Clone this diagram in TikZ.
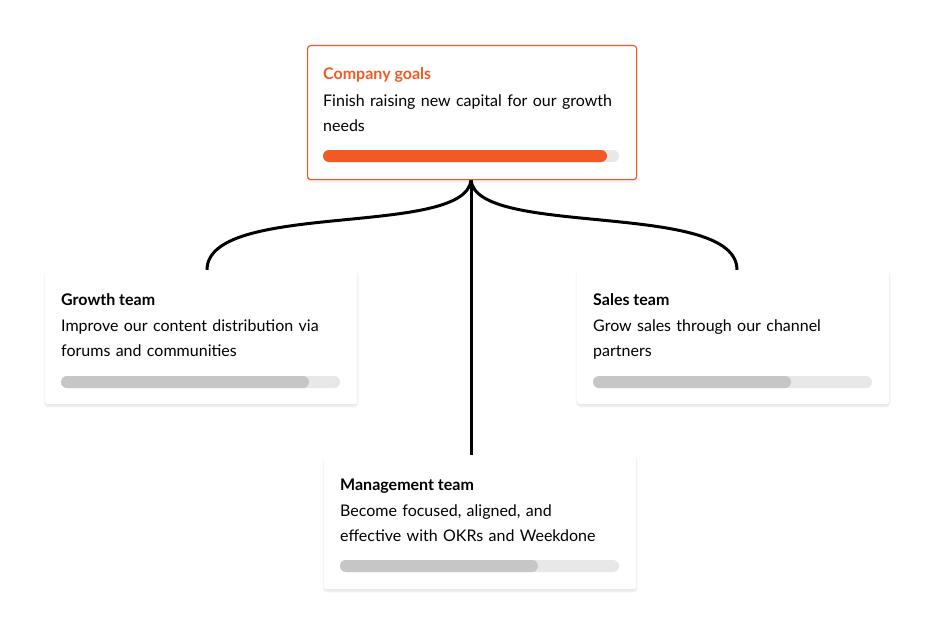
\documentclass[tikz,border=0pt]{standalone}
\usepackage{fontspec}
\setmainfont{Lato}
\usetikzlibrary{shadows.blur}
\definecolor{okrorange}{HTML}{F15A24}
\definecolor{bargray}{HTML}{C6C6C6}
\definecolor{trackgray}{HTML}{E8E8E8}
\tikzset{
  card/.style={draw=none, fill=white, rounded corners=3pt, blur shadow={shadow blur steps=8, shadow xshift=0pt, shadow yshift=-2pt, shadow opacity=12}},
  title/.style={anchor=base west, inner sep=0pt, font=\fontsize{16}{20}\selectfont\bfseries},
  body/.style={anchor=base west, inner sep=0pt, font=\fontsize{16}{25}\selectfont, align=left, text width=300pt}
}
\begin{document}
\begin{tikzpicture}[x=1pt,y=-1pt]
			\useasboundingbox (0,0) rectangle (934,634);
			% connectors
			\coordinate (hub) at (471,180);
			\draw[line width=3pt] (hub) .. controls (466,238) and (207,200) .. (207,270);
			\draw[line width=3pt] (hub) .. controls (476,238) and (737,200) .. (737,270);
			\draw[line width=3pt] (hub) -- (471,455);
			% cards
			\node[card, draw=okrorange, line width=1.2pt, minimum width=329pt, minimum height=134pt, anchor=north west] (company) at (307,45) {};
			\node[card, minimum width=312pt, minimum height=134pt, anchor=north west] (growth) at (45,270) {};
			\node[card, minimum width=312pt, minimum height=134pt, anchor=north west] (sales) at (577,270) {};
			\node[card, minimum width=312pt, minimum height=134pt, anchor=north west] (mgmt) at (324,455) {};
			% texts
			\node[title, text=okrorange] at (323,80) {Company goals};
			\node[body] at (323,106) {Finish raising new capital for our growth\\needs};
			\node[title] at (61,305) {Growth team};
			\node[body] at (61,331) {Improve our content distribution via\\forums and communities};
			\node[title] at (593,305) {Sales team};
			\node[body] at (593,331) {Grow sales through our channel\\partners};
			\node[title] at (340,490) {Management team};
			\node[body] at (340,516) {Become focused, aligned, and\\effective with OKRs and Weekdone};
			% progress bars
			\foreach \x/\y/\len/\done/\col in {323/150/296/284/okrorange, 61/376/279/248/bargray, 593/376/279/198/bargray, 340/560/279/198/bargray}{
				\fill[trackgray, rounded corners=6pt] (\x,\y) rectangle ++(\len,12);
				\fill[\col, rounded corners=6pt] (\x,\y) rectangle ++(\done,12);
			}
		\end{tikzpicture}
\end{document}
